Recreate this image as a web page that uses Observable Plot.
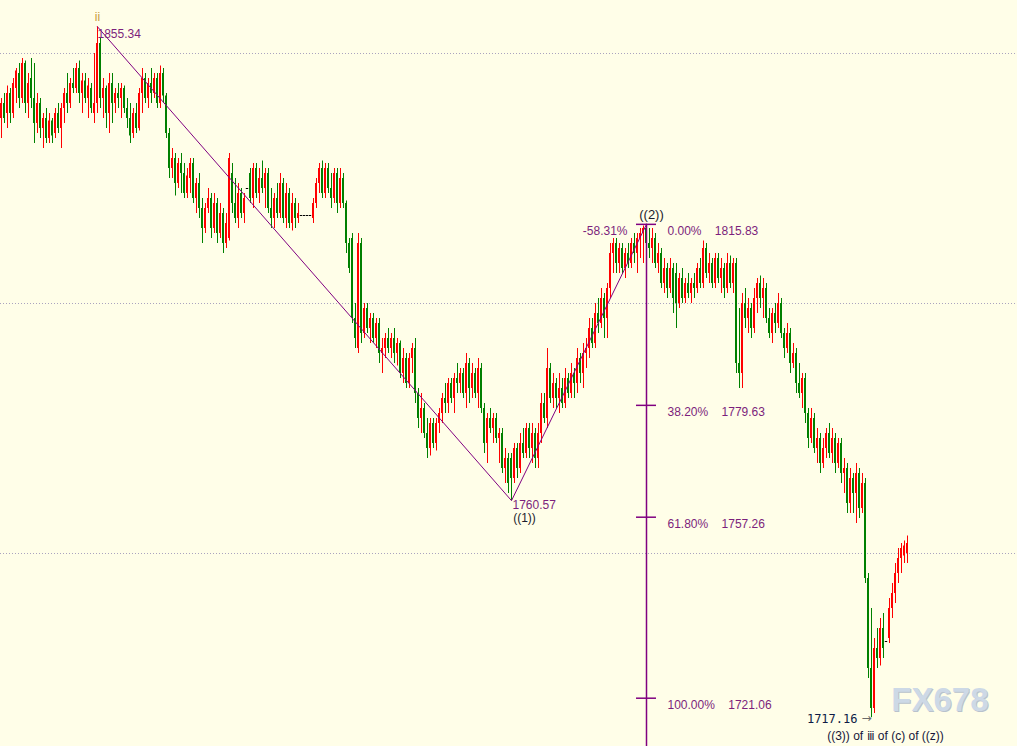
<!DOCTYPE html>
<html>
<head>
<meta charset="utf-8">
<script src="https://cdn.jsdelivr.net/npm/d3@7"></script>
<script src="https://cdn.jsdelivr.net/npm/@observablehq/plot@0.6"></script>
<style>
  html, body { margin: 0; padding: 0; background: #fffee8; }
  #chart svg { display: block; }
</style>
</head>
<body>
<div id="chart"></div>
<script>
// ---- candle data (bar index = time order) ----
const open = [
1837,1840,1838,1842,1838,1843,1846,1841,1848,1840,
1845,1841,1836,1840,1835,1837,1833,1836.5,1834,1838,
1835,1839,1842,1840,1844,1843,1847,1842,1844.5,1841,
1843,1838,1840,1852,1841,1843,1838,1844,1840,1842,
1841,1843,1839,1837,1834,1838,1835,1842,1845,1841,
1844,1842,1845,1840,1846,1841.5,1834,1827,1829,1824,
1828,1826,1822,1825,1828,1821,1824,1819,1815,1819,
1821,1815,1820,1814,1818,1812,1813,1826,1820,1817,
1822,1818,1823,1826,1821,1827,1822,1825,1823,1826,
1819,1817,1821,1818,1824,1817,1822,1816,1820,1817,
1817.6,1817.6,1817.6,1817.6,1817,1820,1824,1827,1822,1827,
1823,1821,1826,1820,1825,1820,1812,1813,1797,1791,
1812,1794,1799,1795,1797,1793,1796,1790,1791,1793,
1791,1793,1790,1792,1786,1789,1784,1789,1791,1782,
1777,1779,1774,1771,1776,1772,1776,1778,1781,1780,
1784,1781,1785,1784,1786,1782,1788,1783,1786,1782,
1787,1779,1772,1777,1775,1777,1773,1774,1767,1769,
1769,1765,1771,1767,1772,1770,1775,1771,1774,1769,
1774,1780,1777,1787,1781,1784,1781,1783,1780,1785,
1782,1786,1784,1789,1786,1790,1791,1795,1792,1798,
1796,1801,1797,1803,1810,1812,1808,1811,1807,1810,
1808,1812,1810,1813,1814,1815,1812,1811,1813,1808,
1810,1804,1807,1803,1807,1806,1800,1805,1801,1804,
1802,1804,1803,1807,1804,1811,1806,1808,1804,1809,
1805,1807,1803,1808,1804,1808,1788,1786,1800,1797,
1799,1795,1801,1804,1801,1803,1797,1794,1798,1796,
1800,1794,1791,1794,1788,1790,1784,1782,1785,1778,
1773,1777,1771,1773,1768,1771,1774,1770,1773,1768,
1772,1766,1767,1760,1765,1762,1766,1759,1764,1745,
1727,1719,1731,1729,1735,1732.4,1733,1739,1742,1746,
1749,1749.5,1750
];
const high = [
1841,1842,1843.5,1843,1845,1847,1848,1849,1848.5,1846,
1849,1848,1842,1841,1838,1839,1838,1837,1839,1840,
1840,1843,1846,1845,1847,1848,1848.5,1846,1846,1845,
1844,1850,1855.34,1853,1845,1843.5,1846,1846,1843,1844,
1844,1843.5,1841,1840,1839,1840,1843,1847,1846,1845,
1847,1846,1846,1847.5,1847,1842,1835,1831,1830,1829,
1830,1828,1827,1829,1829,1825,1826,1821,1820,1823,
1822,1822,1821,1820,1819,1818,1830,1828,1825,1824,
1823,1822,1823,1827,1828,1828,1827,1828.5,1827,1827,
1823,1822,1824,1826,1825,1824,1823,1822,1821,1820,
1817.6,1817.6,1817.6,1817.6,1821,1825,1828,1828.5,1828,1828,
1826,1827,1827,1827,1826,1820.5,1813,1814,1800,1814,
1813,1800,1800,1798,1798,1797,1797,1793,1794,1795,
1794,1795,1793,1792.5,1791,1790,1790,1792,1793,1783,
1782,1780,1777,1777,1777,1777,1779,1782,1784,1785,
1785,1786,1788,1787,1787,1790,1789,1788,1787,1789,
1788,1780,1778,1779,1778,1778,1775,1775,1771,1770,
1770,1772,1772,1774,1775,1776,1776,1776,1775,1776,
1782,1782,1791,1788,1786,1785,1786,1785,1787,1786,
1788,1787,1791,1790,1792,1793,1797,1797,1800,1801,
1803,1802,1804,1812,1813,1813,1812,1812,1811,1812,
1813,1814,1814,1815,1815.5,1815.83,1815,1815,1814,1812,
1811,1809,1808,1809,1808,1808,1806,1807,1805,1806,
1805,1806,1808,1809,1812.5,1812,1810,1809,1810,1810,
1809,1808,1810,1809.5,1809,1809,1799,1802,1803,1801,
1800,1803,1805,1805.5,1805,1804,1799,1799,1800,1802,
1801,1795,1796,1795,1792,1791,1788,1786,1786,1779,
1779,1778,1775,1774,1773,1775,1776,1775,1774,1773,
1773,1769,1768,1767,1766,1768,1767,1766,1765,1746,
1739,1733,1735,1737,1738,1732.4,1741,1744,1748,1751,
1752,1752.5,1753.5
];
const low = [
1833,1836,1835,1836,1837,1840,1839,1840,1838,1837,
1839,1832,1834,1833,1831,1832,1832,1832,1833,1834,
1831,1836,1838,1839,1842,1842,1840,1838,1840,1837,
1838,1836,1838,1839,1837,1835,1834,1836,1838,1839,
1837,1838,1835,1832,1833,1834,1834.5,1838,1840,1839,
1840,1841,1839,1839,1840,1833,1825,1825,1821.5,1823,
1822,1821,1821,1822,1820,1818,1817,1812,1814,1818,
1813,1814,1812,1813,1810,1811,1812.5,1818,1816,1815,
1817,1816,1823,1820,1819,1821,1820,1822,1819,1818,
1815,1815,1817,1817,1816,1815,1815,1814.5,1815,1816,
1817.6,1817.6,1817.6,1817.6,1816,1819,1822,1821,1821,1822,
1819,1820,1818,1819,1819,1810,1806,1796,1791,1790,
1792,1793,1794,1792,1792,1791,1788,1786,1789,1790,
1789,1788,1787.5,1785,1784,1783,1783,1786,1780,1775,
1774,1773,1769,1769.5,1771,1770.5,1774,1776,1778,1778,
1780,1778,1782,1782,1781,1779,1780,1781,1781,1779,
1778,1770,1768,1774,1772,1772,1768,1766,1764,1762,
1760.57,1764,1765,1766,1769,1769,1769,1768,1767,1767,
1772,1776,1775,1780,1779,1779,1778,1779,1779,1781,
1781,1781,1782,1784,1783,1787,1789,1791,1791,1794,
1795,1793,1793,1801,1806,1806,1806,1806,1805,1807,
1807,1808,1806,1809,1808,1810,1809,1808,1807,1806,
1803,1802,1801,1802,1798,1795,1799,1800,1800,1801,
1800,1801,1802,1803,1803,1805,1804,1803,1803,1804,
1802,1801,1802,1803,1802,1786,1783,1783,1795,1794,
1793,1794,1798,1799,1797,1796,1793,1792,1794,1795,
1793,1789,1790,1786,1787,1782,1781,1779,1776,1771,
1772,1770,1768,1766,1767,1769,1769,1768,1766,1767,
1764,1762,1758,1758,1758,1756,1757,1758,1744,1725,
1717.16,1718,1727,1727.5,1729,1732.4,1732,1737,1740,1744,
1746,1748,1748
];
const close = [
1840,1837,1842,1838,1844,1846.5,1841,1848,1840,1844,
1841,1836,1840,1835,1837,1833,1836.5,1833.5,1838,1835,
1839,1842,1840,1844,1843,1847,1842,1844.5,1841,1843.5,
1839,1840,1852,1841,1843,1838,1844,1840,1842,1841,
1843,1839,1837,1833.5,1838,1835,1842,1845,1841,1844,
1842,1845,1840,1846,1841.5,1834,1827,1829,1824,1828,
1826,1822,1825.5,1828,1821,1824,1819,1815,1819,1821,
1815,1820,1814,1818,1812,1816,1829,1820,1817,1822,
1818,1821,1823,1821,1827,1822,1825,1823,1826,1819,
1817,1821,1818,1824,1817,1822,1816,1820,1817,1818,
1817.6,1817.6,1817.6,1817.6,1820,1824,1827,1822,1827,1823,
1821,1826,1820,1825,1820,1812,1807,1797,1793,1812,
1794,1799,1795,1797,1793,1796,1790,1791,1793,1791,
1793,1790,1792,1786,1789,1784,1789,1791,1782,1777,
1779,1774,1771,1776,1772,1776,1778,1781,1780,1784,
1781,1785,1784,1786,1782,1788,1783,1786,1782,1787,
1779,1772,1777,1775,1777,1773,1774,1767,1769,1764,
1765,1771,1767,1772,1770,1775,1771,1774,1769,1774,
1780,1777,1787,1781,1784,1781,1783,1780,1785,1782,
1786,1784,1789,1786,1790,1791,1795,1792,1798,1796,
1801,1797,1803,1810,1812,1808,1811,1807,1810,1808,
1812,1810,1813,1814,1815,1812,1811,1813,1808,1810,
1804,1807,1803,1807,1801,1800,1805,1801,1804,1802,
1804,1803,1807,1804,1811,1806,1808,1804,1809,1805,
1807,1803,1808,1804,1808,1788,1786,1800,1797,1799,
1795,1801,1804,1801,1803,1797,1794,1798,1796,1800,
1794,1791,1794,1788,1790,1784,1782,1785,1778,1773,
1777,1771,1773,1768,1771,1774,1770,1773,1768,1772,
1766,1767,1760,1765,1762,1766,1759,1764,1745,1727,
1719,1731,1729,1735,1731,1732.4,1739,1742,1746,1749,
1751,1751.5,1752
];

// ---- reference lines and annotations ----
const gridLevels = [1850, 1800, 1750];
const waveIdx = [32, 170, 215];            // ii , ((1)) , ((2))
const waveVal = [1855.34, 1760.57, 1815.83];
const fibPct = ["0.00%", "38.20%", "61.80%", "100.00%"];
const fibVal = [1815.83, 1779.63, 1757.26, 1721.06];
const fibExtLabel = "-58.31%";
const lowIdx = 290;
const lowVal = 1717.16;
const lowWaveLabel = "((3)) of \u2172 of (c) of ((z))";

const yDomain = [1711.4, 1860.6];
const idx = d3.range(open.length);
const colorOf = i => close[i] > open[i] ? "#ff0000" : close[i] < open[i] ? "#008000" : "#000000";
const purple = "#800080";
const textPurple = "#7c1f7c";
const fibX = waveIdx[2];

const chart = Plot.plot({
  width: 1017,
  height: 746,
  margin: 0,
  x: {domain: [-1/3, 339 - 1/3], axis: null},
  y: {domain: yDomain, axis: null},
  style: {background: "#fffee8", fontFamily: "Liberation Sans, Arial, sans-serif", fontSize: "12px"},
  marks: [
    Plot.ruleY(gridLevels, {stroke: "#aaa3bf", strokeDasharray: "1,2", strokeWidth: 1}),
    // candle wicks
    Plot.ruleX(idx.filter(i => high[i] > low[i]), {x: i => i, y1: i => low[i], y2: i => high[i], stroke: colorOf, strokeWidth: 1}),
    // candle bodies
    Plot.ruleX(idx.filter(i => open[i] !== close[i]), {x: i => i, y1: i => open[i], y2: i => close[i], stroke: colorOf, strokeWidth: 2, dx: -0.5}),
    // doji bars
    Plot.ruleY(idx.filter(i => open[i] === close[i]), {y: i => close[i], x1: i => i - 0.4, x2: i => i + 0.4, stroke: "#000000", strokeWidth: 1}),
    // wave line
    Plot.line(waveIdx, {x: d => d, y: (d, k) => waveVal[k], stroke: purple, strokeWidth: 1}),
    // fibonacci tool
    Plot.ruleX([fibX], {y1: fibVal[0], y2: yDomain[0], stroke: purple, strokeWidth: 1.5}),
    Plot.ruleY(fibVal, {y: d => d, x1: fibX - 3.33, x2: fibX + 3.33, stroke: purple, strokeWidth: 1.5}),
    Plot.text(fibVal, {x: fibX, y: d => d, text: (d, k) => fibPct[k] + "\u00a0\u00a0\u00a0\u00a0" + d.toFixed(2), dx: 21, dy: 7, textAnchor: "start", fill: textPurple, fontSize: 12}),
    Plot.text([fibExtLabel], {x: fibX, y: fibVal[0], text: d => d, dx: -19, dy: 7, textAnchor: "end", fill: textPurple, fontSize: 12}),
    // wave labels
    Plot.text(["ii"], {x: waveIdx[0], y: waveVal[0], text: d => d, dy: -10, fill: "#c89b3c", fontSize: 12}),
    Plot.text([waveVal[0]], {x: waveIdx[0], y: waveVal[0], text: d => d.toFixed(2), dy: 7, textAnchor: "start", fill: textPurple, fontSize: 12}),
    Plot.text([waveVal[1]], {x: waveIdx[1], y: waveVal[1], text: d => d.toFixed(2), dx: 1, dy: 5, textAnchor: "start", fill: textPurple, fontSize: 12}),
    Plot.text(["((1))"], {x: waveIdx[1], y: waveVal[1], text: d => d, dx: 13, dy: 18, fill: "#1c1c2c", fontSize: 12}),
    Plot.text(["((2))"], {x: waveIdx[2], y: waveVal[2], text: d => d, dx: 5, dy: -10, fill: "#1c1c2c", fontSize: 13}),
    Plot.text([lowVal], {x: lowIdx, y: lowVal, text: d => d.toFixed(2), dx: -14, dy: 1, textAnchor: "end", fill: "#0d1b45", fontSize: 12, fontFamily: "DejaVu Sans Mono, monospace"}),
    Plot.text(["\u2192"], {x: lowIdx, y: lowVal, text: d => d, dx: 0, dy: 0, textAnchor: "end", fill: "#6a6a6a", fontSize: 12, fontFamily: "DejaVu Sans, sans-serif"}),
    Plot.text([lowWaveLabel], {x: lowIdx, y: lowVal, text: d => d, dx: 14, dy: 18, fill: "#16163a", fontSize: 12}),
    // watermark
    Plot.text(["FX678"], {frameAnchor: "bottom-right", text: d => d, dx: -28, dy: -35, textAnchor: "end", fill: "#b9c2cc", fontSize: 33, fontWeight: "bold"}),
    Plot.text(["FX678"], {frameAnchor: "bottom-right", text: d => d, dx: -29, dy: -36, textAnchor: "end", fill: "#cdd9e6", fontSize: 33, fontWeight: "bold"})
  ]
});
document.getElementById("chart").appendChild(chart);
</script>
</body>
</html>
